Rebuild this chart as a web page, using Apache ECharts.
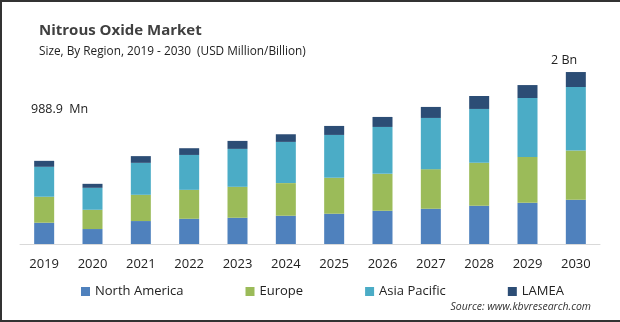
<!DOCTYPE html>
<html>
<head>
<meta charset="utf-8">
<script src="https://cdn.jsdelivr.net/npm/echarts@6/dist/echarts.min.js"></script>
<style>
  html, body { margin: 0; padding: 0; background: #fff; }
  #chart { width: 620px; height: 322px; }
</style>
</head>
<body>
<div id="chart"></div>
<script>
// market size by region, USD million
var years = ['2019', '2020', '2021', '2022', '2023', '2024', '2025', '2026', '2027', '2028', '2029', '2030'];
var regions = ['North America', 'Europe', 'Asia Pacific', 'LAMEA'];
var northAmerica = [253, 178, 273, 300, 312, 336, 360, 395, 419, 455, 490, 526];
var europe = [308.9, 229, 312, 344, 368, 388, 427, 439, 471, 510, 546, 585];
var asiaPacific = [356, 261, 380, 415, 451, 490, 510, 558, 609, 641, 700, 756];
var lamea = [71, 47.5, 80, 80, 95, 91, 107, 119, 131, 154, 154, 178];
var colors = ['#4f81bd', '#9bbb59', '#4bacc6', '#2c4d75'];

var seriesData = [northAmerica, europe, asiaPacific, lamea];

var dom = document.getElementById('chart');
var myChart = echarts.init(dom);

var series = regions.map(function (name, i) {
    return {
        name: name,
        type: 'bar',
        stack: 'total',
        barWidth: 20,
        data: seriesData[i],
        itemStyle: { color: colors[i] }
    };
});

var option = {
    animation: false,
    color: colors,
    title: [{
        text: 'Nitrous Oxide Market',
        left: 34,
        top: 18,
        textStyle: { fontFamily: 'Open Sans', fontSize: 15, fontWeight: 'bold', color: '#404040' }
    }, {
        text: 'Size, By Region, 2019 - 2030  (USD Million/Billion)',
        left: 34,
        top: 41,
        textStyle: { fontFamily: 'Open Sans', fontSize: 11.8, fontWeight: 'normal', color: '#222' }
    }, {
        text: '988.9  Mn',
        left: 26,
        top: 98,
        textStyle: { fontFamily: 'Open Sans', fontSize: 12.5, fontWeight: 'normal', color: '#222' }
    }, {
        text: '2 Bn',
        left: 546,
        top: 49,
        textStyle: { fontFamily: 'Open Sans', fontSize: 12.5, fontWeight: 'normal', color: '#222' }
    }, {
        text: 'Source: www.kbvresearch.com',
        right: 24,
        top: 297,
        textStyle: { fontFamily: 'Open Sans', fontSize: 10.5, fontStyle: 'italic', fontWeight: 'normal', color: '#333' }
    }],
    legend: {
        data: regions,
        bottom: 19,
        left: 76,
        itemWidth: 9,
        itemHeight: 9,
        itemGap: 62,
        icon: 'rect',
        textStyle: { fontFamily: 'Open Sans', fontSize: 13, color: '#222' }
    },
    grid: {
        left: 20,
        right: 20,
        top: 59,
        bottom: 78
    },
    xAxis: {
        type: 'category',
        data: years,
        axisLine: { lineStyle: { color: '#d9d9d9', width: 1 } },
        axisTick: { show: false },
        axisLabel: { margin: 14, fontFamily: 'Open Sans', fontSize: 13, color: '#222' }
    },
    yAxis: {
        type: 'value',
        min: 0,
        max: 2200,
        show: false,
        splitLine: { show: false }
    },
    graphic: [{
        type: 'polyline',
        shape: { points: [[620, 1], [1, 1], [1, 321], [620, 321]] },
        style: { stroke: '#333', lineWidth: 2, fill: null },
        silent: true
    }],
    series: series
};

myChart.setOption(option, true);
</script>
</body>
</html>
